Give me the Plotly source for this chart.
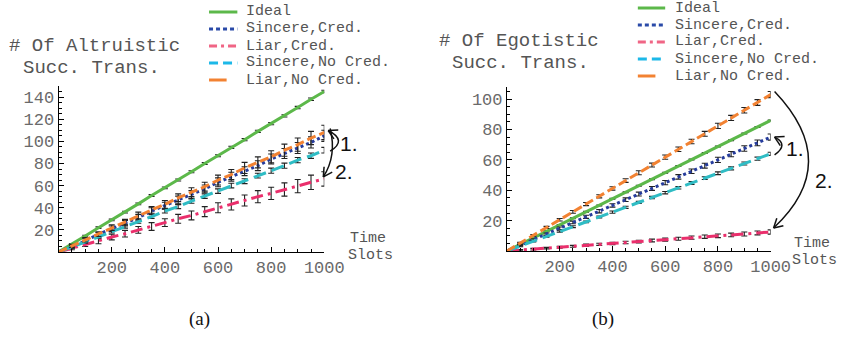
import plotly.graph_objects as go

W, H = 861, 338

# ---- data -------------------------------------------------------------
time_slots = [0, 50, 100, 150, 200, 250, 300, 350, 400, 450, 500,
              550, 600, 650, 700, 750, 800, 850, 900, 950, 1000]

series_names = ["Ideal", "Sincere,Cred.", "Liar,Cred.", "Sincere,No Cred.", "Liar,No Cred."]

# (a) altruistic successful transmissions
alt_ideal = [0, 7, 14.5, 22, 29, 36, 43.5, 51, 58, 65, 72.5, 80, 87, 94.5, 101.5, 109, 116, 123, 130.5, 138, 145]
alt_sincere_cred = [0, 5, 10, 16, 21, 26, 31, 37, 42, 47, 52, 57, 63, 68, 73, 78, 84, 89, 94, 99, 105]
alt_liar_cred = [0, 3.5, 7, 10, 13.5, 16.5, 20, 23, 26.5, 30, 33, 36.5, 40, 43, 46.5, 50, 53, 56.5, 59.5, 63, 66]
alt_sincere_nocred = [0, 4.5, 9, 14, 18.5, 23, 27.5, 32, 37, 41, 46, 50.5, 55, 60, 64, 69, 73.5, 78, 83, 87, 92]
alt_liar_nocred = [0, 5.5, 11, 16, 22, 27, 33, 38, 43, 49, 54, 59, 65, 70, 76, 81, 86, 92, 97, 103, 108]

alt_ideal_err = [0.6, 0.6, 0.7, 0.7, 0.7, 0.8, 0.8, 0.8, 0.8, 0.9, 0.9, 0.9, 0.9, 1.0, 1.0, 1.0, 1.0, 1.0, 1.1, 1.1, 1.1]
alt_sincere_cred_err = [0.5, 1.5, 2, 2, 2.5, 2.5, 3, 3, 3, 3.5, 3.5, 3.5, 4, 4, 4, 4.5, 4.5, 4.5, 5, 5, 5]
alt_liar_cred_err = [0.5, 1.5, 2, 2.5, 2.5, 3, 3, 3.5, 3.5, 4, 4, 4.5, 4.5, 5, 5, 5.5, 5.5, 6, 6, 6.5, 6.5]
alt_sincere_nocred_err = [0.5, 1, 1, 1.2, 1.3, 1.4, 1.5, 1.6, 1.7, 1.8, 1.9, 2, 2, 2.1, 2.2, 2.2, 2.3, 2.3, 2.4, 2.4, 2.5]
alt_liar_nocred_err = [0.5, 1.5, 2, 2, 2.5, 2.5, 3, 3, 3.5, 3.5, 4, 4, 4.5, 4.5, 5, 5, 5.5, 5.5, 6, 6, 6.5]

# (b) egotistic successful transmissions
ego_ideal = [0, 4.3, 8.6, 13, 17.2, 21.5, 25.8, 30, 34.4, 38.7, 43, 47.3, 51.6, 56, 60.2, 64.5, 68.8, 73, 77.4, 81.7, 86]
ego_sincere_cred = [0, 3.8, 7.5, 11.2, 15, 18.8, 22.5, 26.2, 30, 33.8, 37.5, 41.2, 45, 48.8, 52.5, 56.2, 60, 63.8, 67.5, 71.2, 75]
ego_liar_cred = [0, 0.6, 1.2, 1.9, 2.5, 3.1, 3.8, 4.4, 5, 5.6, 6.2, 6.9, 7.5, 8.1, 8.8, 9.4, 10, 10.6, 11.2, 11.9, 12.5]
ego_sincere_nocred = [0, 3.2, 6.4, 9.6, 12.8, 16, 19.2, 22.4, 25.6, 28.8, 32, 35.2, 38.4, 41.6, 44.8, 48, 51.2, 54.4, 57.6, 60.8, 64]
ego_liar_nocred = [0, 5.2, 10.3, 15.5, 20.6, 25.8, 30.9, 36, 41.2, 46.4, 51.5, 56.6, 61.8, 67, 72.1, 77.2, 82.4, 87.6, 92.7, 97.8, 103]

ego_ideal_err = [0.3] * 21
ego_sincere_cred_err = [0.3, 0.5, 0.6, 0.7, 0.8, 0.9, 1, 1.1, 1.1, 1.2, 1.3, 1.3, 1.4, 1.5, 1.5, 1.6, 1.7, 1.7, 1.8, 1.9, 2]
ego_liar_cred_err = [0.3, 0.4, 0.5, 0.5, 0.6, 0.6, 0.7, 0.7, 0.8, 0.8, 0.9, 0.9, 1, 1, 1.1, 1.1, 1.2, 1.2, 1.3, 1.3, 1.4]
ego_sincere_nocred_err = [0.3, 0.4, 0.4, 0.5, 0.5, 0.6, 0.6, 0.6, 0.7, 0.7, 0.7, 0.8, 0.8, 0.8, 0.9, 0.9, 0.9, 1, 1, 1, 1]
ego_liar_nocred_err = [0.3, 0.5, 0.6, 0.7, 0.8, 0.9, 1, 1, 1.1, 1.2, 1.3, 1.3, 1.4, 1.5, 1.5, 1.6, 1.7, 1.7, 1.8, 1.9, 2]

x_ticks = [200, 400, 600, 800, 1000]
alt_y_ticks = [20, 40, 60, 80, 100, 120, 140]
ego_y_ticks = [20, 40, 60, 80, 100]

# ---- styling ----------------------------------------------------------
colors = ["#5cb84a", "#263c9c", "#ea2f6c", "#2fbcc4", "#f28232"]
legend_colors = ["#5cb84a", "#2a4aa8", "#f06585", "#1cb8e8", "#f28232"]
dashes = ["solid", "3px,3px", "12px,5px,3px,5px", "13px,6px", "9px,4px"]
MONO = "Liberation Mono"
TXT = "#555555"

# panel frames in pixels: (left, right, bottom, top) and data ranges
panels = {
    "a": dict(px=(60, 332), py=(252, 86), xr=(0, 1000), yr=(0, 150)),
    "b": dict(px=(519, 789), py=(251, 87), xr=(0, 1000), yr=(0, 108)),
}


def to_paper(px, py):
    return px / W, 1 - py / H


def data_px(panel, x, y):
    p = panels[panel]
    fx = (x - p["xr"][0]) / (p["xr"][1] - p["xr"][0])
    fy = (y - p["yr"][0]) / (p["yr"][1] - p["yr"][0])
    return p["px"][0] + fx * (p["px"][1] - p["px"][0]), p["py"][0] + fy * (p["py"][1] - p["py"][0])


fig = go.Figure()

panel_series = {
    "a": [(alt_ideal, alt_ideal_err), (alt_sincere_cred, alt_sincere_cred_err),
          (alt_liar_cred, alt_liar_cred_err), (alt_sincere_nocred, alt_sincere_nocred_err),
          (alt_liar_nocred, alt_liar_nocred_err)],
    "b": [(ego_ideal, ego_ideal_err), (ego_sincere_cred, ego_sincere_cred_err),
          (ego_liar_cred, ego_liar_cred_err), (ego_sincere_nocred, ego_sincere_nocred_err),
          (ego_liar_nocred, ego_liar_nocred_err)],
}
axis_ids = {"a": ("x", "y"), "b": ("x2", "y2")}

for key, series in panel_series.items():
    xa, ya = axis_ids[key]
    for i, (vals, errs) in enumerate(series):
        fig.add_trace(go.Scatter(
            x=time_slots, y=vals, mode="lines", name=series_names[i],
            xaxis=xa, yaxis=ya, showlegend=False,
            line=dict(color=colors[i], width=3, dash=dashes[i]),
            error_y=dict(type="data", array=errs, visible=True,
                         color="#222222", thickness=1.1, width=3),
        ))


def axis_common():
    return dict(showline=True, linecolor="black", linewidth=1, showgrid=False,
                zeroline=False, ticks="inside", tickcolor="black", ticklen=5,
                tickfont=dict(family=MONO, size=17, color="#6a6a6a"))


layout_axes = {}
for key, (xa, ya) in axis_ids.items():
    p = panels[key]
    x0, _ = to_paper(p["px"][0], 0)
    x1, _ = to_paper(p["px"][1], 0)
    _, y0 = to_paper(0, p["py"][0])
    _, y1 = to_paper(0, p["py"][1])
    yt = alt_y_ticks if key == "a" else ego_y_ticks
    xname = "xaxis" if xa == "x" else "xaxis2"
    yname = "yaxis" if ya == "y" else "yaxis2"
    layout_axes[xname] = dict(axis_common(), domain=[x0, x1], range=list(p["xr"]), anchor=ya,
                              tickmode="array", tickvals=x_ticks, ticktext=[str(v) for v in x_ticks],
                              minor=dict(ticks="inside", ticklen=3, tickcolor="black",
                                         tickmode="array", tickvals=list(range(50, 1000, 50))))
    layout_axes[yname] = dict(axis_common(), domain=[y0, y1], range=list(p["yr"]), anchor=xa,
                              tickmode="array", tickvals=yt, ticktext=[str(v) for v in yt],
                              minor=dict(ticks="inside", ticklen=3, tickcolor="black",
                                         tickmode="array",
                                         tickvals=list(range(5, int(p["yr"][1]), 5))))

fig.update_layout(width=W, height=H, margin=dict(l=0, r=0, t=0, b=0),
                  paper_bgcolor="white", plot_bgcolor="white", **layout_axes)

annotations = []
shapes = []


def text(px, py, s, size, anchor="center", family=MONO, color=TXT):
    x, y = to_paper(px, py)
    annotations.append(dict(x=x, y=y, xref="paper", yref="paper", text=s, showarrow=False,
                            xanchor=anchor, yanchor="middle", borderpad=0,
                            font=dict(family=family, size=size, color=color)))


# axis titles
text(97, 46, "# Of Altruistic", 19)
text(94, 68, "Succ. Trans.", 19)
text(531, 41, "# Of Egotistic", 19)
text(533, 63, "Succ. Trans.", 19)
text(357, 238, "Time", 15, anchor="left")
text(355, 255, "Slots", 15, anchor="left")
text(812, 243, "Time", 15, anchor="left")
text(810, 260, "Slots", 15, anchor="left")

# sub-figure captions
text(204, 319, "(a)", 19, family="Liberation Serif", color="#111111")
text(617, 319, "(b)", 19, family="Liberation Serif", color="#111111")

# legends drawn as line samples plus labels
legend_layout = [
    dict(sx=(214, 243), tx=251, rows=[12, 29, 46, 63, 80]),
    dict(sx=(653, 681), tx=690, rows=[8, 25, 42, 59, 76]),
]
sample_dash = ["solid", "4px,3px", "8px,4px,3px,4px", "9px,5px", "solid"]
for lg in legend_layout:
    for i, name in enumerate(series_names):
        yy = lg["rows"][i]
        sx0, sx1 = lg["sx"]
        if i == 4:
            sx1 = sx0 + 18
        a0 = to_paper(sx0, yy)
        a1 = to_paper(sx1, yy)
        shapes.append(dict(type="line", xref="paper", yref="paper",
                           x0=a0[0], y0=a0[1], x1=a1[0], y1=a1[1],
                           line=dict(color=legend_colors[i], width=3, dash=sample_dash[i])))
        text(lg["tx"], yy, name, 15, anchor="left")


# curved arrows between series end points
def curved_arrow(p0, ctrl, p2, label, label_pos):
    q0, qc, q2 = to_paper(*p0), to_paper(*ctrl), to_paper(*p2)
    shapes.append(dict(type="path", xref="paper", yref="paper",
                       path=f"M {q0[0]} {q0[1]} Q {qc[0]} {qc[1]} {q2[0]} {q2[1]}",
                       line=dict(color="#111111", width=1.5)))
    # open arrow head along the end tangent
    dx, dy = p2[0] - ctrl[0], p2[1] - ctrl[1]
    n = (dx * dx + dy * dy) ** 0.5
    ux, uy = dx / n, dy / n
    hl, hw = 9, 5
    for s in (1, -1):
        bx = p2[0] - ux * hl + s * (-uy) * hw
        by = p2[1] - uy * hl + s * ux * hw
        b = to_paper(bx, by)
        shapes.append(dict(type="line", xref="paper", yref="paper",
                           x0=q2[0], y0=q2[1], x1=b[0], y1=b[1],
                           line=dict(color="#111111", width=1.5)))
    text(label_pos[0], label_pos[1], label, 21, anchor="left", family="Liberation Sans",
         color="#111111")


# (a)
ax, ay = data_px("a", 1000, alt_sincere_nocred[-1])
bx, by = data_px("a", 1000, alt_liar_nocred[-1])
curved_arrow((ax + 6, ay + 1), (ax + 24, (ay + by) / 2 - 1), (bx + 4, by - 2), "1.", (347, 143))
cx, cy = data_px("a", 1000, alt_liar_cred[-1])
curved_arrow((bx + 6, by - 4), (bx + 13, (by + cy) / 2), (cx - 1, cy - 2), "2.", (342, 171))

# (b)
ax, ay = data_px("b", 1000, ego_sincere_nocred[-1])
bx, by = data_px("b", 1000, ego_sincere_cred[-1])
curved_arrow((ax + 4, ay + 1), (ax + 19, (ay + by) / 2 - 1), (bx + 4, by), "1.", (804, 149))
cx, cy = data_px("b", 1000, ego_liar_nocred[-1])
dx_, dy_ = data_px("b", 1000, ego_liar_cred[-1])
curved_arrow((cx + 4, cy - 3), (cx + 74, (cy + dy_) / 2), (dx_ + 3, dy_ - 4), "2.", (833, 180))

fig.update_layout(annotations=annotations, shapes=shapes)

fig.write_html("out.html")
